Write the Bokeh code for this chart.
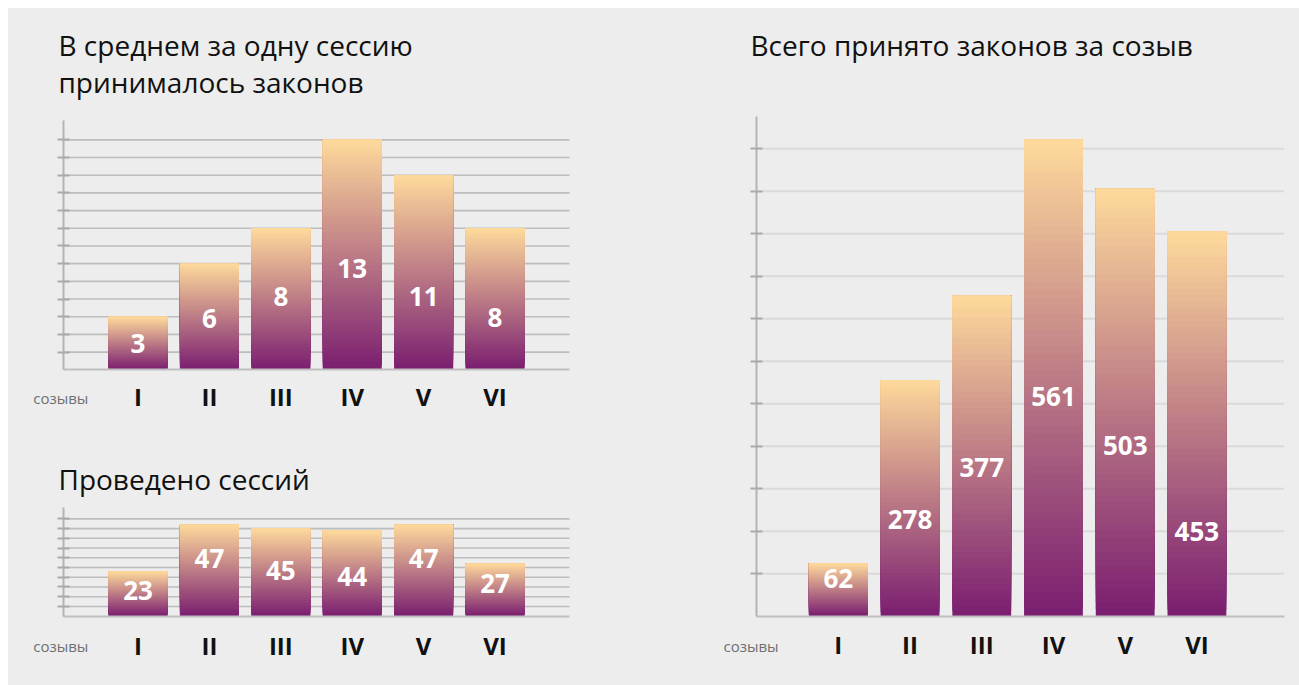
from bokeh.plotting import figure
from bokeh.layouts import row, column, Spacer
from bokeh.models import ColumnDataSource, FixedTicker, Label
from bokeh.embed import file_html
from bokeh.resources import INLINE
from bokeh.core.properties import value

# ---------------- data ----------------
convocations = ["I", "II", "III", "IV", "V", "VI"]
avg_laws_per_session = [3, 6, 8, 13, 11, 8]
sessions_held = [23, 47, 45, 44, 47, 27]
total_laws = [62, 278, 377, 561, 503, 453]

title_avg = ["В среднем за одну сессию", "принималось законов"]
title_sessions = "Проведено сессий"
title_total = "Всего принято законов за созыв"
axis_caption = "созывы"

avg_grid = list(range(1, 14))
sessions_grid = list(range(5, 55, 5))
total_grid = list(range(50, 600, 50))

# where the value label sits, as a share of the bar height (layout only)
avg_label_frac = [0.49, 0.48, 0.515, 0.44, 0.375, 0.37]
sessions_label_frac = [0.57, 0.63, 0.52, 0.46, 0.63, 0.62]
total_label_frac = [0.72, 0.41, 0.465, 0.46, 0.40, 0.22]

# ---------------- style ----------------
BG = "#ededed"
FONT = "Open Sans"
TOP_RGB = (253, 216, 155)
BOT_RGB = (123, 31, 112)


def mix(t):
    r = [round(b + (a - b) * t) for a, b in zip(TOP_RGB, BOT_RGB)]
    return "#%02x%02x%02x" % tuple(r)


def gradient_source(vals, n=60):
    xs, bottoms, tops, colors = [], [], [], []
    for i, v in enumerate(vals):
        for k in range(n):
            xs.append(i + 1)
            bottoms.append(v * k / n)
            tops.append(v)
            colors.append(mix(k / (n - 1)))
    return ColumnDataSource(dict(x=xs, bottom=bottoms, top=tops, color=colors))


def make_chart(vals, fracs, grid_vals, w, h, xr, yr, axis_x, x_end_axis, y_top,
               bw, grid_color, grid_width, label_standoff):
    p = figure(width=w, height=h, x_range=xr, y_range=yr,
               output_backend="svg", toolbar_location=None,
               min_border=0)
    p.background_fill_color = BG
    p.border_fill_color = BG
    p.outline_line_color = None
    p.xgrid.visible = False
    p.ygrid.visible = False

    # horizontal grid lines, spanning the plotting area only
    p.segment(x0=[axis_x] * len(grid_vals), x1=[x_end_axis] * len(grid_vals),
              y0=grid_vals, y1=grid_vals, line_color=grid_color,
              line_width=grid_width)

    p.vbar(x="x", width=bw, bottom="bottom", top="top", fill_color="color",
           line_color=None, source=gradient_source(vals))

    lab = ColumnDataSource(dict(x=list(range(1, len(vals) + 1)),
                                y=[v * f for v, f in zip(vals, fracs)],
                                t=[str(v) for v in vals]))
    p.text(x="x", y="y", text="t", source=lab, text_color="white",
           text_font=value(FONT), text_font_style="bold",
           text_font_size="26px", text_align="center",
           text_baseline="middle")

    ya = p.yaxis[0]
    ya.fixed_location = axis_x
    ya.bounds = (0, y_top)
    ya.ticker = FixedTicker(ticks=grid_vals)
    ya.major_label_text_color = None
    ya.axis_line_color = "#b4b4b4"
    ya.axis_line_width = 2
    ya.major_tick_line_color = "#aaaaaa"
    ya.major_tick_line_width = 2
    ya.major_tick_in = 6
    ya.major_tick_out = 6
    ya.minor_tick_line_color = None

    xa = p.xaxis[0]
    xa.fixed_location = 0
    xa.bounds = (axis_x, x_end_axis)
    xa.ticker = FixedTicker(ticks=list(range(1, len(vals) + 1)))
    xa.major_label_overrides = {i + 1: c for i, c in enumerate(convocations)}
    xa.major_tick_line_color = None
    xa.minor_tick_line_color = None
    xa.major_tick_out = 0
    xa.major_tick_in = 0
    xa.axis_line_color = "#c0c0c0"
    xa.axis_line_width = 2
    xa.major_label_text_font = FONT
    xa.major_label_text_font_style = "bold"
    xa.major_label_text_font_size = "24px"
    xa.major_label_text_color = "#111111"
    xa.major_label_standoff = label_standoff
    return p


def add_text(p, x, y, txt, size, color="#111111", style="normal"):
    p.add_layout(Label(x=x, y=y, x_units="screen", y_units="screen", text=txt,
                       text_font=FONT, text_font_size=size, text_color=color,
                       text_font_style=style, text_baseline="alphabetic",
                       text_align="left"))


# ---- chart 1: average laws per session ----
p1 = make_chart(avg_laws_per_session, avg_label_frac, avg_grid,
                680, 432, (-0.8135, 8.709), (-3.9966, 20.424),
                -0.043, 7.043, 14.08, 0.826, "#bdbdbd", 1.6, 10)
add_text(p1, 50, 395.5, title_avg[0], "28px")
add_text(p1, 50, 358.5, title_avg[1], "28px")
add_text(p1, 24.7, 42.5, axis_caption, "15px", "#707070")

# ---- chart 2: sessions held ----
p2 = make_chart(sessions_held, sessions_label_frac, sessions_grid,
                680, 245, (-0.8135, 8.709), (-35.59, 90.24),
                -0.043, 7.043, 56.0, 0.826, "#bdbdbd", 1.6, 13)
add_text(p2, 50, 206.2, title_sessions, "28px")
add_text(p2, 24.7, 40, axis_caption, "15px", "#707070")

# ---- chart 3: total laws ----
p3 = make_chart(total_laws, total_label_frac, total_grid,
                611, 677, (-1.0887, 7.4303), (-81.55, 715.1),
                -0.1475, 7.216, 588.4, 0.82, "#dadada", 2, 12)
add_text(p3, 62, 640.5, title_total, "28px")
add_text(p3, 35, 39.3, axis_caption, "15px", "#707070")

charts = row(column(p1, p2, spacing=0, styles={"background-color": BG}), p3,
             spacing=0, styles={"background-color": BG})
layout = row(Spacer(width=8, height=8),
             column(Spacer(width=8, height=8), charts, spacing=0),
             spacing=0)
open("out.html", "w").write(file_html(layout, INLINE))
